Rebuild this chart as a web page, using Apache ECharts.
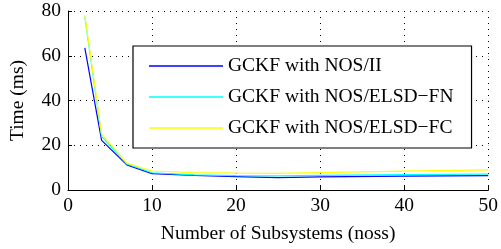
<!DOCTYPE html>
<html><head><meta charset="utf-8">
<script src="https://cdn.jsdelivr.net/npm/echarts@6/dist/echarts.min.js"></script>
<style>html,body{margin:0;padding:0;background:#fff}#c{width:501px;height:249px}</style>
</head><body><div id="c"></div>
<script>
const noss = [2, 4, 7, 10, 15, 20, 25, 30, 40, 50];
const nosII = [63.5, 22.2, 11.2, 7.3, 6.5, 6.0, 5.5, 5.9, 6.2, 6.4];
const nosFN = [77.5, 24.0, 11.6, 7.7, 6.8, 6.4, 6.3, 6.5, 6.9, 7.1];
const nosFC = [78.3, 25.0, 12.0, 8.5, 7.8, 7.5, 7.4, 7.8, 8.4, 9.0];
const names = ['GCKF with NOS/II', 'GCKF with NOS/ELSD\u2212FN', 'GCKF with NOS/ELSD\u2212FC'];
const colors = ['#0000ff', '#00ffff', '#ffff00'];
const font = 'Liberation Serif';
const fs = 19.5;
const chart = echarts.init(document.getElementById('c'));
const mk = (name, ys, color) => ({
  name, type: 'line', data: noss.map((x, i) => [x, ys[i]]),
  showSymbol: false, symbol: 'none', lineStyle: { color, width: 1.2 }, itemStyle: { color },
  animation: false
});
chart.setOption({
  animation: false,
  grid: { left: 66, right: 11, top: 11, bottom: 57 },
  xAxis: {
    type: 'value', min: 0, max: 50, interval: 10,
    name: 'Number of Subsystems (noss)', nameLocation: 'middle', nameGap: 34,
    nameTextStyle: { fontFamily: font, fontSize: fs, color: '#000' },
    axisLine: { show: true, lineStyle: { color: '#000', width: 1 } },
    axisTick: { show: true, inside: true, length: 4, lineStyle: { color: '#000' } },
    axisLabel: { fontFamily: font, fontSize: fs, color: '#000', margin: 6 },
    splitLine: { show: true, lineStyle: { color: '#000', type: [1, 5], width: 1 } }
  },
  yAxis: {
    type: 'value', min: 0, max: 80, interval: 20,
    name: 'Time (ms)', nameLocation: 'middle', nameGap: 40,
    nameTextStyle: { fontFamily: font, fontSize: fs, color: '#000' },
    axisLine: { show: true, lineStyle: { color: '#000', width: 1 } },
    axisTick: { show: true, inside: true, length: 4, lineStyle: { color: '#000' } },
    axisLabel: { fontFamily: font, fontSize: fs, color: '#000', margin: 7 },
    splitLine: { show: true, lineStyle: { color: '#000', type: [1, 5], width: 1 } }
  },
  legend: {
    orient: 'vertical', left: 133, top: 46,
    padding: [10, 18, 10, 16], itemGap: 11, itemWidth: 74, itemHeight: 1.5,
    icon: 'rect',
    borderColor: '#000', borderWidth: 1.2, backgroundColor: '#fff',
    textStyle: { fontFamily: font, fontSize: fs, color: '#000', lineHeight: 20 },
    data: names
  },
  series: [mk(names[0], nosII, colors[0]), mk(names[1], nosFN, colors[1]), mk(names[2], nosFC, colors[2])]
});
</script></body></html>
